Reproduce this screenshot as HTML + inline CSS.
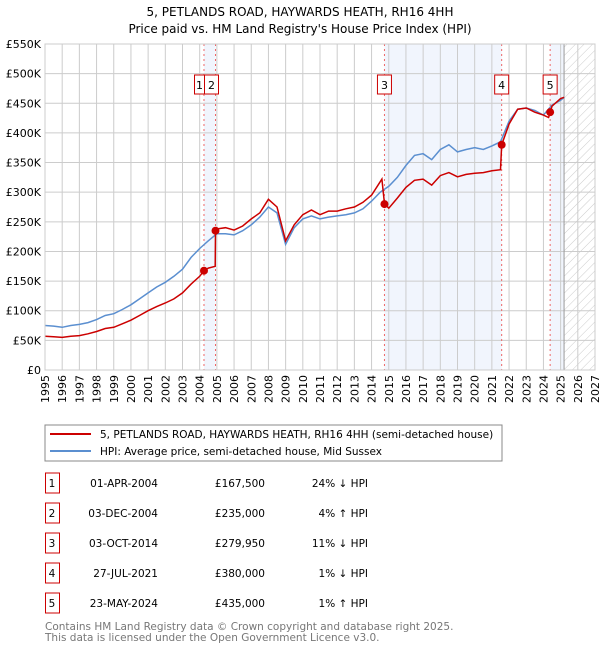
<!DOCTYPE html>
<html><head><meta charset="utf-8"><style>
body{margin:0;background:#fff;}
svg{font-family:"DejaVu Sans","Liberation Sans",sans-serif;}
</style></head><body>
<svg id="chart" width="600" height="650" xmlns="http://www.w3.org/2000/svg">
<defs><pattern id="hatch" width="6" height="6" patternUnits="userSpaceOnUse" patternTransform="rotate(45)"><line x1="0" y1="0" x2="0" y2="6" stroke="#ccc" stroke-width="1"/></pattern></defs>
<text x="300" y="16" text-anchor="middle" font-size="12">5, PETLANDS ROAD, HAYWARDS HEATH, RH16 4HH</text>
<text x="300" y="33" text-anchor="middle" font-size="12">Price paid vs. HM Land Registry's House Price Index (HPI)</text>
<g id="plot"></g>
<rect x="45" y="425" width="457" height="36" fill="#fff" stroke="#888"/>
<line x1="50" y1="434" x2="91" y2="434" stroke="#cc0000" stroke-width="2"/>
<text x="100" y="438" font-size="10.5">5, PETLANDS ROAD, HAYWARDS HEATH, RH16 4HH (semi-detached house)</text>
<line x1="50" y1="451" x2="91" y2="451" stroke="#5b8fd0" stroke-width="2"/>
<text x="100" y="455" font-size="10.5">HPI: Average price, semi-detached house, Mid Sussex</text>
<g id="table" font-size="10.5"></g>
<text x="45" y="630" font-size="10.5" fill="#777">Contains HM Land Registry data © Crown copyright and database right 2025.</text>
<text x="45" y="641" font-size="10.5" fill="#777">This data is licensed under the Open Government Licence v3.0.</text>
</svg>
<script>
const hpiYears=[1995,1995.5,1996,1996.5,1997,1997.5,1998,1998.5,1999,1999.5,2000,2000.5,2001,2001.5,2002,2002.5,2003,2003.5,2004,2004.5,2005,2005.5,2006,2006.5,2007,2007.5,2008,2008.5,2009,2009.5,2010,2010.5,2011,2011.5,2012,2012.5,2013,2013.5,2014,2014.5,2015,2015.5,2016,2016.5,2017,2017.5,2018,2018.5,2019,2019.5,2020,2020.5,2021,2021.5,2022,2022.5,2023,2023.5,2024,2024.5,2025,2025.2];
const hpiValues=[75,74,72,75,77,80,85,92,95,102,110,120,130,140,148,158,170,190,205,218,230,230,228,235,245,258,275,265,212,240,255,260,255,258,260,262,265,272,285,300,310,325,345,362,365,355,372,380,368,372,375,372,378,385,420,440,442,438,430,447,455,460];
const priceYears=[1995,1995.5,1996,1996.5,1997,1997.5,1998,1998.5,1999,1999.5,2000,2000.5,2001,2001.5,2002,2002.5,2003,2003.5,2004,2004.25,2004.5,2004.9,2004.92,2005,2005.5,2006,2006.5,2007,2007.5,2008,2008.5,2009,2009.5,2010,2010.5,2011,2011.5,2012,2012.5,2013,2013.5,2014,2014.6,2014.75,2015,2015.5,2016,2016.5,2017,2017.5,2018,2018.5,2019,2019.5,2020,2020.5,2021,2021.5,2021.57,2022,2022.5,2023,2023.5,2024,2024.3,2024.4,2024.5,2025,2025.2];
const priceValues=[57,56,55,57,58,61,65,70,72,78,84,92,100,107,113,120,130,145,158,167.5,172,175,235,238,240,236,243,255,265,288,275,218,245,262,270,262,268,268,272,275,283,295,322,280,273,290,308,320,322,312,328,333,326,330,332,333,336,338,380,415,440,442,435,430,426,435,445,458,460];
const saleYears=[2004.25,2004.92,2014.75,2021.57,2024.39];
const salePrices=[167.5,235,279.95,380,435];
const saleDates=["01-APR-2004","03-DEC-2004","03-OCT-2014","27-JUL-2021","23-MAY-2024"];
const salePriceLabels=["£167,500","£235,000","£279,950","£380,000","£435,000"];
const saleHpiLabels=["24% ↓ HPI","4% ↑ HPI","11% ↓ HPI","1% ↓ HPI","1% ↑ HPI"];
const yTicks=[0,50,100,150,200,250,300,350,400,450,500,550];
const yTickLabels=["£0","£50K","£100K","£150K","£200K","£250K","£300K","£350K","£400K","£450K","£500K","£550K"];
const xTicks=[1995,1996,1997,1998,1999,2000,2001,2002,2003,2004,2005,2006,2007,2008,2009,2010,2011,2012,2013,2014,2015,2016,2017,2018,2019,2020,2021,2022,2023,2024,2025,2026,2027];

const NS="http://www.w3.org/2000/svg";
const L=45,R=595,T=44,B=370,X0=1995,X1=2027,YMAX=550;
const sx=v=>L+(v-X0)*(R-L)/(X1-X0);
const sy=v=>B-v*(B-T)/YMAX;
const plot=document.getElementById('plot');
function mk(tag,attrs,parent){const e=document.createElementNS(NS,tag);for(const k in attrs)e.setAttribute(k,attrs[k]);(parent||plot).appendChild(e);return e;}

const spans=[[saleYears[0],saleYears[1]],[saleYears[2],saleYears[3]],[saleYears[4],2025.2]];
spans.forEach((s,i)=>{
const r=mk('rect',{x:sx(s[0]),y:T,width:sx(s[1])-sx(s[0]),height:B-T,fill:'#f1f5fd'});


});
const h=mk('rect',{x:sx(2025.2),y:T,width:R-sx(2025.2),height:B-T,fill:'url(#hatch)'});



yTicks.forEach((v,i)=>{
const g=mk('line',{x1:L,x2:R,y1:sy(v),y2:sy(v),stroke:'#ccc','stroke-width':1});


const t=mk('text',{x:L-4,y:sy(v)+4,'text-anchor':'end','font-size':11});
t.textContent=yTickLabels[i];


});
xTicks.forEach(v=>{
const g=mk('line',{x1:sx(v),x2:sx(v),y1:T,y2:B,stroke:'#ccc','stroke-width':1});


const t=mk('text',{x:0,y:0,'text-anchor':'end','font-size':11,transform:`translate(${sx(v)+4},${B+5}) rotate(-90)`});
t.textContent=v;


});
const vb=mk('line',{x1:sx(2025.2),x2:sx(2025.2),y1:T,y2:B,stroke:'#999','stroke-width':1});



saleYears.forEach((y,i)=>{
const d=mk('line',{x1:sx(y),x2:sx(y),y1:T,y2:B,stroke:'#e66','stroke-width':1,'stroke-dasharray':'2,3'});


});
saleYears.forEach((y,i)=>{
let bx=sx(y)-7;
if(i===0) bx=sx(saleYears[1])-21;
if(i===1) bx=sx(saleYears[1])-11;
const b=mk('rect',{x:bx,y:75,width:14,height:19,fill:'#fff',stroke:'#cc0000'});


const bt=mk('text',{x:bx+(i===0?5:7),y:89,'text-anchor':'middle','font-size':11});
bt.textContent=String(i+1);


});

const hp=mk('path',{d:hpiYears.map((y,i)=>(i?'L':'M')+sx(y).toFixed(1)+','+sy(hpiValues[i]).toFixed(1)).join(''),fill:'none',stroke:'#5b8fd0','stroke-width':1.5});


const pp=mk('path',{d:priceYears.map((y,i)=>(i?'L':'M')+sx(y).toFixed(1)+','+sy(priceValues[i]).toFixed(1)).join(''),fill:'none',stroke:'#cc0000','stroke-width':1.5});


saleYears.forEach((y,i)=>{
const c=mk('circle',{cx:sx(y),cy:sy(salePrices[i]),r:4,fill:'#cc0000'});


});
const fr=mk('rect',{x:L,y:T,width:R-L,height:B-T,fill:'none',stroke:'#ccc'});



const tb=document.getElementById('table');
saleDates.forEach((d,i)=>{
const cy=483+i*30;
const b=mk('rect',{x:45.5,y:cy-10,width:14,height:20,fill:'#fff',stroke:'#cc0000'},tb);


const cells=[[52,String(i+1),'middle'],[158,d,'end'],[265,salePriceLabels[i],'end'],[368,saleHpiLabels[i],'end']];
cells.forEach((c,j)=>{
const t=mk('text',{x:c[0],y:cy+4,'text-anchor':c[2]},tb);
t.textContent=c[1];


});
});
</script>
</body></html>
